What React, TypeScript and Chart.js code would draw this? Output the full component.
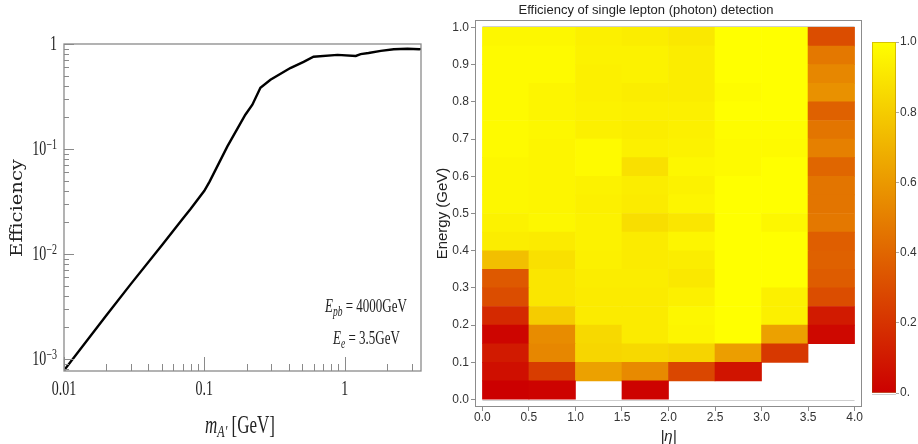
import React, { useEffect, useRef } from "react";
import { Chart, registerables } from "chart.js";
Chart.register(...registerables);

// ---------- Left panel: efficiency vs dark photon mass ----------
const massGeV = [0.01, 0.02, 0.03, 0.05, 0.0697, 0.08, 0.1, 0.109, 0.146, 0.196, 0.22, 0.251, 0.296, 0.41, 0.51, 0.6, 0.89, 1.2, 1.3, 1.48, 1.81, 2.24, 2.8, 3.4, 3.5];
const efficiency = [0.00078, 0.0026, 0.0052, 0.0122, 0.0215, 0.027, 0.04, 0.049, 0.106, 0.212, 0.264, 0.383, 0.457, 0.59, 0.676, 0.757, 0.787, 0.77, 0.8, 0.82, 0.86, 0.89, 0.9, 0.89, 0.9];
const massMajorTicks = [0.01, 0.1, 1];
const massMajorLabels = ["0.01", "0.1", "1"];
const massMinorTicks = [0.02, 0.03, 0.04, 0.05, 0.06, 0.07, 0.08, 0.09, 0.2, 0.3, 0.4, 0.5, 0.6, 0.7, 0.8, 0.9, 2, 3];
const effMajorTicks = [1, 0.1, 0.01, 0.001];
const effMajorExponents = ["", "\u22121", "\u22122", "\u22123"];
const effMinorTicks = [0.9, 0.8, 0.7, 0.6, 0.5, 0.4, 0.3, 0.2, 0.09, 0.08, 0.07, 0.06, 0.05, 0.04, 0.03, 0.02, 0.009, 0.008, 0.007, 0.006, 0.005, 0.004, 0.003, 0.002, 0.0009, 0.0008];

// ---------- Right panel: efficiency map (|eta| x energy) ----------
const etaEdges = [0, 0.5, 1.0, 1.5, 2.0, 2.5, 3.0, 3.5, 4.0];
const energyEdges = [0, 0.05, 0.1, 0.15, 0.2, 0.25, 0.3, 0.35, 0.4, 0.45, 0.5, 0.55, 0.6, 0.65, 0.7, 0.75, 0.8, 0.85, 0.9, 0.95, 1.0];
// each array: energy bins from bottom (0-0.05) to top (0.95-1.0); null = empty cell
const effEta00to05 = [0.0, 0.06, 0.1, 0.02, 0.16, 0.3, 0.35, 0.75, 0.93, 0.95, 0.97, 0.97, 0.97, 0.98, 0.98, 0.98, 0.98, 0.98, 0.98, 0.97];
const effEta05to10 = [0.01, 0.24, 0.53, 0.55, 0.8, 0.9, 0.9, 0.88, 0.92, 0.97, 0.96, 0.96, 0.96, 0.96, 0.97, 0.96, 0.96, 0.98, 0.98, 0.97];
const effEta10to15 = [null, 0.63, 0.84, 0.85, 0.92, 0.92, 0.93, 0.94, 0.95, 0.95, 0.94, 0.95, 0.98, 0.98, 0.94, 0.95, 0.94, 0.94, 0.95, 0.94];
const effEta15to20 = [0.01, 0.54, 0.85, 0.92, 0.92, 0.92, 0.93, 0.92, 0.92, 0.87, 0.92, 0.93, 0.88, 0.94, 0.93, 0.94, 0.93, 0.95, 0.95, 0.93];
const effEta20to25 = [null, 0.28, 0.83, 0.96, 0.97, 0.94, 0.91, 0.93, 0.96, 0.9, 0.96, 0.95, 0.97, 0.95, 0.94, 0.94, 0.93, 0.93, 0.93, 0.91];
const effEta25to30 = [null, 0.08, 0.62, 1.0, 1.0, 1.0, 1.0, 1.0, 1.0, 1.0, 1.0, 1.0, 0.98, 0.98, 0.99, 1.0, 0.99, 1.0, 1.0, 1.0];
const effEta30to35 = [null, null, 0.22, 0.63, 0.94, 0.94, 1.0, 1.0, 1.0, 0.97, 1.0, 1.0, 1.0, 0.98, 0.99, 1.0, 1.0, 1.0, 1.0, 1.0];
const effEta35to40 = [null, null, null, 0.03, 0.1, 0.3, 0.36, 0.38, 0.37, 0.47, 0.46, 0.46, 0.4, 0.5, 0.46, 0.38, 0.57, 0.53, 0.47, 0.3];
const etaColumns = [effEta00to05, effEta05to10, effEta10to15, effEta15to20, effEta20to25, effEta25to30, effEta30to35, effEta35to40];
const etaTickValues = [0, 0.5, 1.0, 1.5, 2.0, 2.5, 3.0, 3.5, 4.0];
const energyTickValues = [0, 0.1, 0.2, 0.3, 0.4, 0.5, 0.6, 0.7, 0.8, 0.9, 1.0];
const colorbarTickValues = [0, 0.2, 0.4, 0.6, 0.8, 1.0];
const colorbarTickLabels = ["0.", "0.2", "0.4", "0.6", "0.8", "1.0"];
const heatTitle = "Efficiency of single lepton (photon) detection";

const SANS = '"Liberation Sans", Arial, sans-serif';
const SERIF = '"Liberation Serif", "Times New Roman", serif';

const effColor = (v: number) =>
  `rgb(${Math.round(204 + 51 * v)},${Math.round(255 * v)},0)`;

type Part = { t: string; font: string; dy?: number };
function drawRich(ctx: CanvasRenderingContext2D, parts: Part[], x: number, y: number, opts: any = {}) {
  ctx.save();
  ctx.translate(x, y);
  if (opts.rotate) ctx.rotate(opts.rotate);
  ctx.scale(opts.sx ?? 1, opts.sy ?? 1);
  ctx.fillStyle = opts.color ?? "#222";
  ctx.textBaseline = "alphabetic";
  ctx.textAlign = "left";
  let total = 0;
  const widths = parts.map((p) => {
    ctx.font = p.font;
    const w = ctx.measureText(p.t).width;
    total += w;
    return w;
  });
  let cx = opts.align === "right" ? -total : opts.align === "center" ? -total / 2 : 0;
  parts.forEach((p, i) => {
    ctx.font = p.font;
    ctx.fillText(p.t, cx, p.dy ?? 0);
    cx += widths[i];
  });
  ctx.restore();
}

const STRETCH = 1.45;

const leftDecor = {
  id: "leftDecor",
  afterDraw(chart: any) {
    const { ctx, chartArea: a, scales } = chart;
    const xs = scales.x;
    const ys = scales.y;
    ctx.save();
    ctx.strokeStyle = "#8a8a8a";
    ctx.lineWidth = 1.3;
    ctx.strokeRect(a.left, a.top, a.right - a.left, a.bottom - a.top);
    ctx.lineWidth = 1;
    const seg = (x1: number, y1: number, x2: number, y2: number) => {
      ctx.beginPath();
      ctx.moveTo(x1, y1);
      ctx.lineTo(x2, y2);
      ctx.stroke();
    };
    massMajorTicks.forEach((v) => {
      const x = Math.round(xs.getPixelForValue(v)) + 0.5;
      seg(x, a.bottom, x, a.bottom - 14);
    });
    massMinorTicks.forEach((v) => {
      const x = Math.round(xs.getPixelForValue(v)) + 0.5;
      seg(x, a.bottom, x, a.bottom - 7);
    });
    effMajorTicks.forEach((v) => {
      const y = Math.round(ys.getPixelForValue(v)) + 0.5;
      seg(a.left, y, a.left + 10, y);
    });
    effMinorTicks.forEach((v) => {
      const y = Math.round(ys.getPixelForValue(v)) + 0.5;
      seg(a.left, y, a.left + 5, y);
    });
    ctx.restore();

    massMajorTicks.forEach((v, i) => {
      drawRich(ctx, [{ t: massMajorLabels[i], font: `14px ${SERIF}` }], xs.getPixelForValue(v), a.bottom + 24, { align: "center", sy: STRETCH });
    });
    effMajorTicks.forEach((v, i) => {
      const y = ys.getPixelForValue(v);
      const parts: Part[] = effMajorExponents[i]
        ? [{ t: "10", font: `14px ${SERIF}` }, { t: effMajorExponents[i], font: `10px ${SERIF}`, dy: -4.2 }]
        : [{ t: "1", font: `14px ${SERIF}` }];
      drawRich(ctx, parts, a.left - 7, y + 6, { align: "right", sy: STRETCH });
    });
    // axis titles
    drawRich(
      ctx,
      [
        { t: "m", font: `italic 17px ${SERIF}` },
        { t: "A\u2032", font: `italic 12px ${SERIF}`, dy: 3 },
        { t: " [GeV]", font: `17px ${SERIF}` },
      ],
      240,
      433,
      { align: "center", sy: STRETCH }
    );
    drawRich(ctx, [{ t: "Efficiency", font: `17px "DejaVu Serif", serif` }], 22, 208, {
      align: "center",
      rotate: -Math.PI / 2,
      sx: 1.15,
    });
    // annotations
    drawRich(
      ctx,
      [
        { t: "E", font: `italic 13px ${SERIF}` },
        { t: "pb", font: `italic 9.5px ${SERIF}`, dy: 2.5 },
        { t: " = 4000GeV", font: `13px ${SERIF}` },
      ],
      325,
      312,
      { sy: STRETCH }
    );
    drawRich(
      ctx,
      [
        { t: "E", font: `italic 13px ${SERIF}` },
        { t: "e", font: `italic 9.5px ${SERIF}`, dy: 2.5 },
        { t: " = 3.5GeV", font: `13px ${SERIF}` },
      ],
      333,
      344,
      { sy: STRETCH }
    );
  },
};

const heatDecor = {
  id: "heatDecor",
  afterDatasetsDraw(chart: any) {
    const { ctx, scales } = chart;
    const xs = scales.x;
    const ys = scales.y;
    const x0 = xs.getPixelForValue(etaEdges[0]);
    const x1 = xs.getPixelForValue(etaEdges[etaEdges.length - 1]);
    const yb = ys.getPixelForValue(energyEdges[0]);
    const yt = ys.getPixelForValue(energyEdges[energyEdges.length - 1]);
    ctx.save();
    ctx.strokeStyle = "#cfcfcf";
    ctx.lineWidth = 1;
    ctx.beginPath();
    ctx.moveTo(x0, Math.round(yb) + 0.5);
    ctx.lineTo(x1, Math.round(yb) + 0.5);
    ctx.moveTo(x0, Math.round(yt) - 0.5);
    ctx.lineTo(x1, Math.round(yt) - 0.5);
    ctx.stroke();
    ctx.restore();
  },
  afterDraw(chart: any) {
    const { ctx, chartArea: a } = chart;
    ctx.save();
    ctx.strokeStyle = "#8c8c8c";
    ctx.lineWidth = 1;
    ctx.strokeRect(a.left + 0.5, a.top + 0.5, a.right - a.left - 1, a.bottom - a.top - 1);
    ctx.restore();
  },
};

const cbDecor = {
  id: "cbDecor",
  afterDraw(chart: any) {
    const { ctx, chartArea: a } = chart;
    ctx.save();
    ctx.strokeStyle = "rgba(140,90,0,0.35)";
    ctx.lineWidth = 1;
    ctx.strokeRect(a.left + 0.5, a.top + 0.5, a.right - a.left - 1, a.bottom - a.top - 1);
    ctx.strokeStyle = "#d0d0d0";
    ctx.beginPath();
    ctx.moveTo(a.left, a.bottom + 1.5);
    ctx.lineTo(a.right, a.bottom + 1.5);
    ctx.stroke();
    ctx.restore();
  },
};

export default function App() {
  const leftRef = useRef<HTMLCanvasElement>(null);
  const heatRef = useRef<HTMLCanvasElement>(null);
  const cbRef = useRef<HTMLCanvasElement>(null);

  useEffect(() => {
    const left = new Chart(leftRef.current as HTMLCanvasElement, {
      type: "line",
      data: {
        datasets: [
          {
            data: massGeV.map((m, i) => ({ x: m, y: efficiency[i] })),
            borderColor: "#000",
            borderWidth: 2.4,
            pointRadius: 0,
            tension: 0,
            fill: false,
          },
        ],
      },
      options: {
        responsive: false,
        animation: false,
        layout: { padding: { left: 64, right: 9, top: 44, bottom: 73 } },
        plugins: { legend: { display: false }, tooltip: { enabled: false }, title: { display: false } },
        scales: {
          x: { type: "logarithmic", min: 0.01, max: 3.5, display: false },
          y: { type: "logarithmic", min: 0.00077, max: 1, display: false },
        },
      } as any,
      plugins: [leftDecor],
    });

    const heatDatasets = energyEdges.slice(0, -1).map((lo, r) => ({
      data: etaColumns
        .map((col, c) =>
          col[r] === null
            ? null
            : { x: (etaEdges[c] + etaEdges[c + 1]) / 2, y: [lo, energyEdges[r + 1]], v: col[r] }
        )
        .filter((d) => d !== null),
      backgroundColor: (ctx: any) => effColor(ctx.raw ? ctx.raw.v : 0),
      borderWidth: 0,
      grouped: false,
      barPercentage: 1,
      categoryPercentage: 1,
    }));

    const heat = new Chart(heatRef.current as HTMLCanvasElement, {
      type: "bar",
      data: { datasets: heatDatasets as any },
      options: {
        responsive: false,
        animation: false,
        layout: { padding: { left: 0, right: 4, top: 0, bottom: 0 } },
        plugins: {
          legend: { display: false },
          tooltip: { enabled: false },
          title: {
            display: true,
            text: heatTitle,
            color: "#222",
            font: { family: SANS, size: 13, weight: "normal", lineHeight: 1.2 },
            padding: { top: 3, bottom: 1.4 },
          },
        },
        scales: {
          x: {
            type: "linear",
            min: -0.08,
            max: 4.08,
            offset: false,
            afterBuildTicks: (s: any) => {
              s.ticks = etaTickValues.map((value) => ({ value }));
            },
            afterFit: (s: any) => {
              s.height = 37;
              s.paddingLeft = 0;
              s.paddingRight = 0;
            },
            ticks: {
              callback: (v: any) => Number(v).toFixed(1),
              font: { family: SANS, size: 12 },
              color: "#333",
              padding: -1,
              maxRotation: 0,
              autoSkip: false,
            },
            grid: { offset: false, drawOnChartArea: false, tickLength: 4, color: "#8c8c8c" },
            border: { display: false },
            title: {
              display: true,
              text: "|\u03b7|",
              color: "#222",
              font: { family: SANS, size: 15, style: "italic", lineHeight: 1 },
              padding: { top: 0, bottom: 0 },
            },
          },
          y: {
            type: "linear",
            min: -0.02,
            max: 1.02,
            afterBuildTicks: (s: any) => {
              s.ticks = energyTickValues.map((value) => ({ value }));
            },
            afterFit: (s: any) => {
              s.width = 45;
              s.paddingTop = 0;
              s.paddingBottom = 0;
            },
            ticks: {
              callback: (v: any) => Number(v).toFixed(1),
              font: { family: SANS, size: 12 },
              color: "#333",
              padding: 2,
              autoSkip: false,
            },
            grid: { drawOnChartArea: false, tickLength: 4, color: "#8c8c8c" },
            border: { display: false },
            title: {
              display: true,
              text: "Energy (GeV)",
              color: "#222",
              font: { family: SANS, size: 15, lineHeight: 1 },
              padding: { top: 5.5, bottom: 0 },
            },
          },
        },
      } as any,
      plugins: [heatDecor],
    });

    const cb = new Chart(cbRef.current as HTMLCanvasElement, {
      type: "bar",
      data: {
        labels: [""],
        datasets: [
          {
            data: [[colorbarTickValues[0], colorbarTickValues[colorbarTickValues.length - 1]]],
            backgroundColor: (ctx: any) => {
              const ca = ctx.chart.chartArea;
              if (!ca) return effColor(0.5);
              const g = ctx.chart.ctx.createLinearGradient(0, ca.bottom, 0, ca.top);
              g.addColorStop(0, effColor(0));
              g.addColorStop(1, effColor(1));
              return g;
            },
            borderWidth: 0,
            barPercentage: 1,
            categoryPercentage: 1,
          },
        ],
      },
      options: {
        responsive: false,
        animation: false,
        layout: { padding: { left: 10, right: 0, top: 42, bottom: 51 } },
        plugins: { legend: { display: false }, tooltip: { enabled: false } },
        scales: {
          x: { display: false },
          y: {
            position: "right",
            min: 0,
            max: 1,
            afterBuildTicks: (s: any) => {
              s.ticks = colorbarTickValues.map((value) => ({ value }));
            },
            afterFit: (s: any) => {
              s.width = 22;
              s.paddingTop = 0;
              s.paddingBottom = 0;
            },
            ticks: {
              callback: (_v: any, i: number) => colorbarTickLabels[i],
              font: { family: SANS, size: 12 },
              color: "#333",
              padding: 1,
              autoSkip: false,
            },
            grid: { drawOnChartArea: false, tickLength: 3, color: "#aaa" },
            border: { display: false },
          },
        },
      } as any,
      plugins: [cbDecor],
    });

    return () => {
      left.destroy();
      heat.destroy();
      cb.destroy();
    };
  }, []);

  return (
    <div style={{ position: "fixed", left: 0, top: 0, width: 918, height: 444, background: "#fff", overflow: "hidden" }}>
      <canvas ref={leftRef} width={430} height={444} style={{ position: "absolute", left: 0, top: 0, width: 430, height: 444 }} />
      <canvas ref={heatRef} width={436} height={444} style={{ position: "absolute", left: 430, top: 0, width: 436, height: 444 }} />
      <canvas ref={cbRef} width={56} height={444} style={{ position: "absolute", left: 862, top: 0, width: 56, height: 444 }} />
    </div>
  );
}
